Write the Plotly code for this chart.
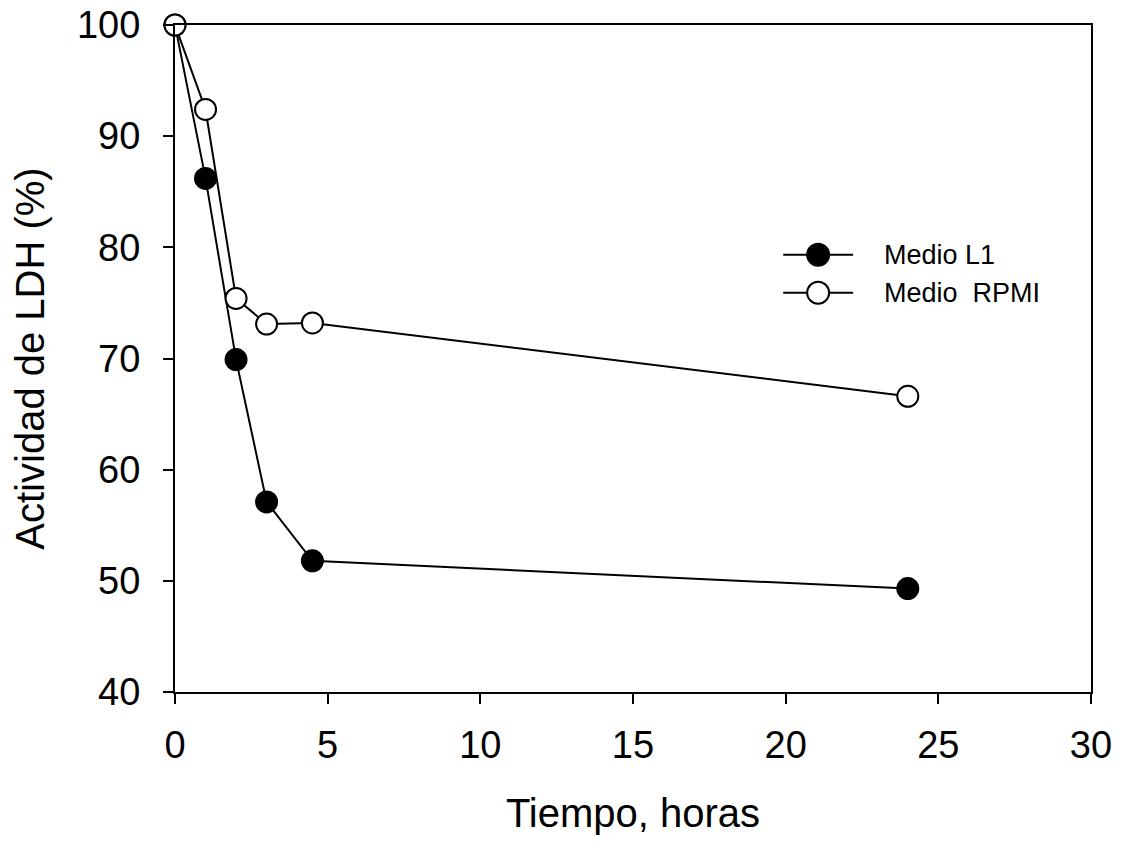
import plotly.graph_objects as go

# Tiempo de incubación (horas) y actividad residual de LDH (%)
tiempo = [0, 1, 2, 3, 4.5, 24]
medio_l1 = [100, 86.2, 69.9, 57.1, 51.8, 49.3]
medio_rpmi = [100, 92.4, 75.4, 73.1, 73.2, 66.6]

series_names = ["Medio L1", "Medio  RPMI"]
x_ticks = [0, 5, 10, 15, 20, 25, 30]
y_ticks = [40, 50, 60, 70, 80, 90, 100]

FONT = "Arial, Liberation Sans, sans-serif"

fig = go.Figure()

fig.add_trace(go.Scatter(
    x=tiempo, y=medio_l1, mode="lines+markers", name=series_names[0],
    line=dict(color="black", width=2),
    marker=dict(symbol="circle", size=21, color="black",
                line=dict(color="black", width=2)),
    cliponaxis=False, showlegend=False,
))
fig.add_trace(go.Scatter(
    x=tiempo, y=medio_rpmi, mode="lines+markers", name=series_names[1],
    line=dict(color="black", width=2),
    marker=dict(symbol="circle", size=21, color="white",
                line=dict(color="black", width=2)),
    cliponaxis=False, showlegend=False,
))

# Leyenda dibujada a mano: segmento, símbolo y texto
legend_rows = [(0.6554, "black"), (0.5985, "white")]
for (yp, fill), name in zip(legend_rows, series_names):
    fig.add_shape(type="line", xref="paper", yref="paper",
                  x0=0.664, x1=0.7403, y0=yp, y1=yp,
                  line=dict(color="black", width=2))
    fig.add_shape(type="circle", xref="paper", yref="paper",
                  xsizemode="pixel", ysizemode="pixel",
                  xanchor=0.7021, yanchor=yp,
                  x0=-11, x1=11, y0=-11, y1=11,
                  fillcolor=fill, line=dict(color="black", width=2))
    fig.add_annotation(xref="paper", yref="paper", x=0.7716, y=yp,
                       xanchor="left", yanchor="middle", showarrow=False,
                       text=name.replace("  ", "&nbsp; "),
                       font=dict(family=FONT, size=27, color="black"))

axis_common = dict(
    showgrid=False, zeroline=False, showline=True, linecolor="black",
    linewidth=2, mirror=True, ticks="outside", ticklen=10, tickwidth=2,
    tickcolor="black", tickfont=dict(family=FONT, size=38, color="black"),
    automargin=False,
)

fig.update_xaxes(
    range=[0, 30], tickvals=x_ticks, ticklabelstandoff=8,
    title=dict(text="Tiempo, horas", font=dict(family=FONT, size=40, color="black"),
               standoff=34),
    **axis_common,
)
fig.update_yaxes(
    range=[40, 100], tickvals=y_ticks, ticklabelstandoff=15,
    title=dict(text="Actividad de LDH (%)", font=dict(family=FONT, size=40, color="black"),
               standoff=20),
    **axis_common,
)

fig.update_layout(
    width=1129, height=847,
    margin=dict(l=174.5, r=38, t=25, b=154.5),
    paper_bgcolor="white", plot_bgcolor="white",
    font=dict(family=FONT, color="black"),
)

fig.write_html("out.html")
